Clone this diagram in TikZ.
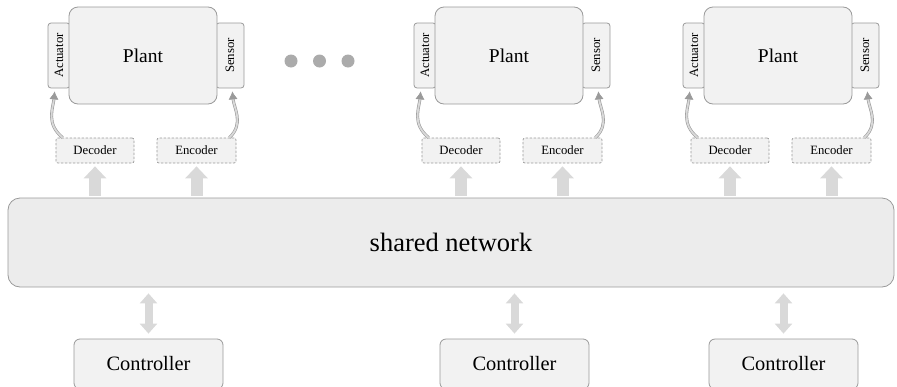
\documentclass[tikz,border=0pt]{standalone}
\usepackage{fontspec}
\setmainfont{Liberation Serif}
\setsansfont{Liberation Serif}
\usetikzlibrary{arrows.meta}
\definecolor{boxline}{HTML}{9A9A9A}
\definecolor{boxfill}{HTML}{F2F2F2}
\definecolor{netfill}{HTML}{ECECEC}
\definecolor{arrowfill}{HTML}{D9D9D9}
\definecolor{dotfill}{HTML}{ABABAB}
\tikzset{
  plantbox/.style={draw=boxline, fill=boxfill, line width=0.8pt, rounded corners=9pt,
    minimum width=148pt, minimum height=97pt, inner sep=0pt,
    font=\rmfamily\fontsize{19.5}{22}\selectfont},
  sidebox/.style={draw=boxline, fill=boxfill, line width=0.8pt, rounded corners=3pt,
    rotate=90, minimum width=65pt, inner sep=0pt,
    font=\rmfamily\fontsize{12.8}{14}\selectfont},
  codebox/.style={draw=boxline, fill=boxfill, line width=0.7pt, dashed, dash pattern=on 2.5pt off 1.5pt,
    rounded corners=2pt, minimum width=78pt, minimum height=25pt, inner sep=0pt,
    font=\rmfamily\fontsize{12.7}{14}\selectfont},
  netbox/.style={draw=boxline, fill=netfill, line width=0.8pt, rounded corners=12pt,
    minimum width=886pt, minimum height=89pt, inner sep=0pt,
    font=\rmfamily\fontsize{26.5}{30}\selectfont},
  ctrlbox/.style={draw=boxline, fill=boxfill, line width=0.8pt, rounded corners=6pt,
    minimum width=149pt, minimum height=50pt, inner sep=0pt,
    font=\rmfamily\fontsize{20.4}{23}\selectfont},
  uparrow/.style={draw=arrowfill, line width=12pt, -{Triangle[length=12pt,width=22pt]}},
  duparrow/.style={draw=arrowfill, line width=8pt, {Triangle[length=10pt,width=17pt]}-{Triangle[length=10pt,width=17pt]}},
  curvearrow/.style={draw=boxline, line width=0.6pt, double=arrowfill, double distance=1.8pt,
    -{Latex[length=8pt,width=9pt]}},
  dotnode/.style={circle, fill=dotfill, minimum size=13pt, inner sep=0pt},
}
\begin{document}
\begin{tikzpicture}[x=1pt,y=-1pt]
\useasboundingbox (0,0) rectangle (897,386);
\clip (0,0) rectangle (897,386);
\node[netbox] (net) at (451,242.5) {shared network};
\foreach \i/\dx in {1/0,2/366,3/635}{
  \node[sidebox, minimum height=22pt] (act\i) at (59+\dx,55.5) {Actuator};
  \node[sidebox, minimum height=28pt] (sen\i) at (230+\dx,55.5) {Sensor};
  \node[plantbox] (plant\i) at (143+\dx,55.5) {Plant};
  \node[codebox] (dec\i) at (95+\dx,150.5) {Decoder};
  \node[codebox, minimum width=79pt] (enc\i) at (196.5+\dx,150.5) {Encoder};
  \node[ctrlbox] (ctrl\i) at (148.5+\dx,364) {Controller};
  \draw[uparrow, shorten <=2pt, shorten >=3pt] (net.north -| dec\i) -- (dec\i.south);
  \draw[uparrow, shorten <=2pt, shorten >=3pt] (net.north -| enc\i) -- (enc\i.south);
  \draw[duparrow, shorten <=6pt, shorten >=5pt] (net.south -| ctrl\i) -- (ctrl\i.north);
  \draw[curvearrow, shorten >=3pt] ([xshift=7pt]dec\i.north west) .. controls +(-17,-14) and +(-2,20) .. ([xshift=-4pt]act\i.west);
  \draw[curvearrow, shorten >=3pt] ([xshift=-7pt]enc\i.north east) .. controls +(15,-14) and +(2,20) .. ([xshift=2pt]sen\i.west);
}
\node[dotnode] (d1) at (291,61) {};
\node[dotnode] (d2) at (319.5,61) {};
\node[dotnode] (d3) at (348,61) {};
\end{tikzpicture}
\end{document}
